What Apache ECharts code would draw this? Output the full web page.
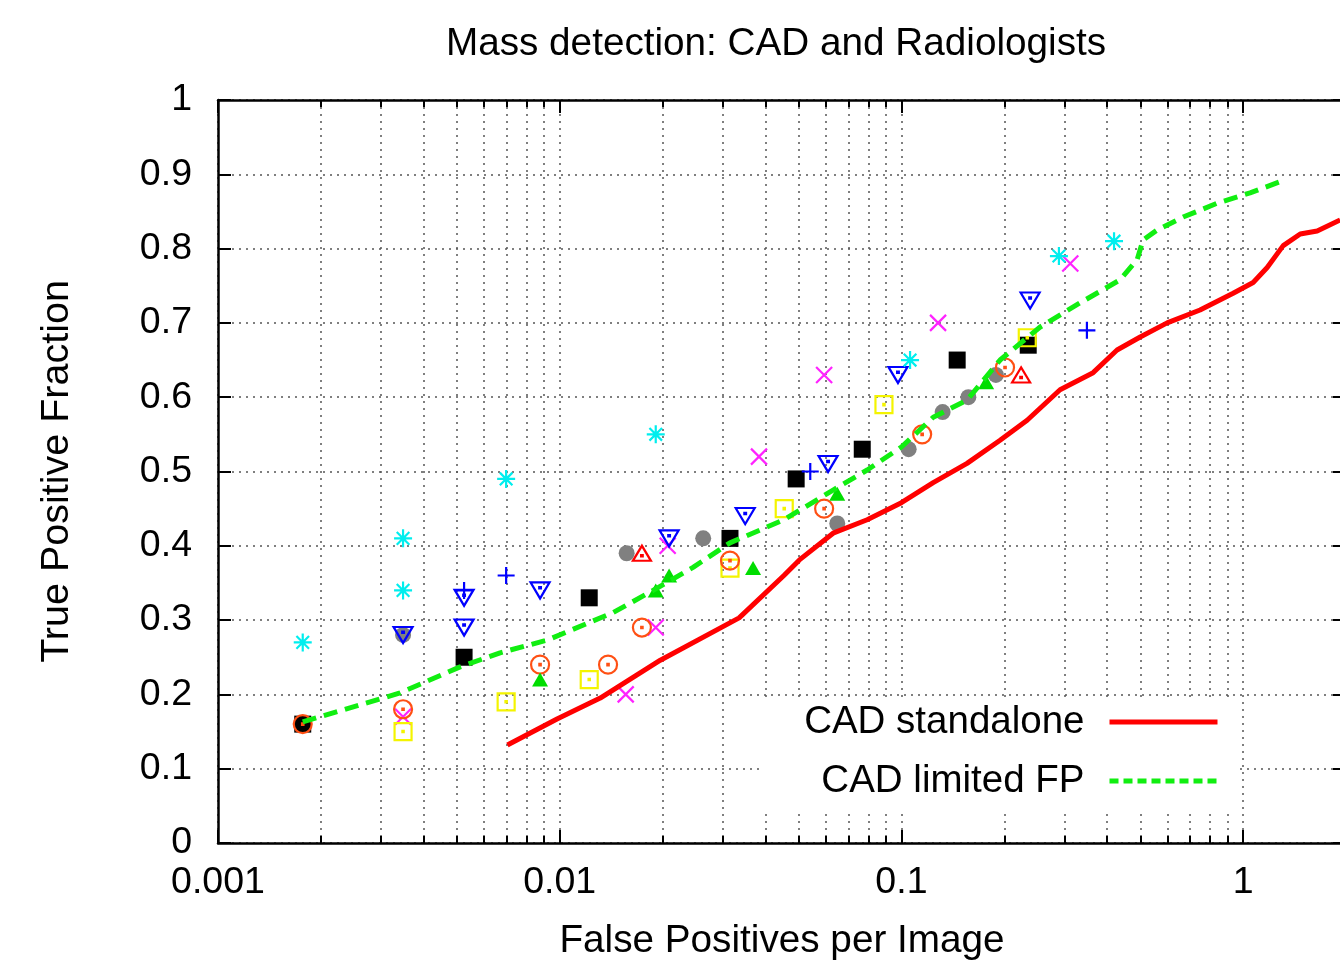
<!DOCTYPE html>
<html>
<head>
<meta charset="utf-8">
<script src="https://cdn.jsdelivr.net/npm/echarts@6/dist/echarts.min.js"></script>
<style>
  html, body { margin: 0; padding: 0; background: #fff; }
  #chart { width: 1340px; height: 961px; }
</style>
</head>
<body>
<div id="chart"></div>
<script>
// tick values for the log x axis
let majorTicks = [0.001, 0.01, 0.1, 1];
let allTicks = [];
for (let d of [0.001, 0.01, 0.1, 1]) {
    for (let k = 1; k <= 9; k++) allTicks.push(+(d * k).toPrecision(3));
}
allTicks.push(2);

// CAD curves
let cadX = [0.00703, 0.00982, 0.01314, 0.0197, 0.0335, 0.0453, 0.0503, 0.0631, 0.0794, 0.1, 0.1239, 0.1556, 0.1944, 0.2333, 0.2912, 0.3639, 0.4276, 0.4998, 0.5993, 0.748, 0.935, 1.07, 1.176, 1.31, 1.469, 1.647, 1.923];
let cadY = [0.132, 0.167, 0.195, 0.246, 0.303, 0.36, 0.381, 0.417, 0.435, 0.458, 0.485, 0.511, 0.542, 0.569, 0.61, 0.633, 0.6635, 0.681, 0.7, 0.7174, 0.74, 0.7544, 0.7746, 0.804, 0.8197, 0.8237, 0.8385];
let limX = [0.00177, 0.00341, 0.00511, 0.00669, 0.00918, 0.01432, 0.01876, 0.02456, 0.0315, 0.0453, 0.0631, 0.0794, 0.1, 0.1239, 0.1556, 0.1944, 0.2547, 0.3334, 0.4365, 0.4895, 0.5096, 0.5599, 0.6674, 0.8389, 1.048, 1.283];
let limY = [0.163, 0.202, 0.237, 0.256, 0.273, 0.31, 0.34, 0.371, 0.404, 0.435, 0.475, 0.502, 0.533, 0.573, 0.596, 0.65, 0.6945, 0.727, 0.758, 0.785, 0.8116, 0.825, 0.8425, 0.861, 0.875, 0.89];

// radiologists (x = FP per image, y = TPF)
let blackSq = [[0.00177, 0.16], [0.00525, 0.25], [0.0122, 0.33], [0.0315, 0.41], [0.0492, 0.49], [0.0768, 0.53], [0.1456, 0.65], [0.235, 0.67]];
let grayDot = [[0.00348, 0.28], [0.0157, 0.39], [0.0263, 0.41], [0.0649, 0.43], [0.105, 0.53], [0.132, 0.58], [0.157, 0.60], [0.189, 0.63]];
let magentaX = [[0.00348, 0.17], [0.0156, 0.20], [0.0191, 0.29], [0.0207, 0.40], [0.0383, 0.52], [0.0594, 0.63], [0.128, 0.70], [0.312, 0.78]];
let yellowSq = [[0.00348, 0.15], [0.00697, 0.19], [0.0122, 0.22], [0.0315, 0.37], [0.0454, 0.45], [0.0889, 0.59], [0.2335, 0.68]];
let orangeCirc = [[0.00177, 0.16], [0.00348, 0.18], [0.00876, 0.24], [0.01385, 0.24], [0.0174, 0.29], [0.0315, 0.38], [0.0594, 0.45], [0.115, 0.55], [0.201, 0.64]];
let bluePlus = [[0.00525, 0.34], [0.00697, 0.36], [0.0541, 0.50], [0.349, 0.69]];
let blueTri = [[0.00348, 0.28], [0.00525, 0.33], [0.00525, 0.29], [0.00876, 0.34], [0.0209, 0.41], [0.0349, 0.44], [0.061, 0.51], [0.0977, 0.63], [0.238, 0.73]];
let cyanStar = [[0.00177, 0.27], [0.00348, 0.41], [0.00348, 0.34], [0.00697, 0.49], [0.0191, 0.55], [0.106, 0.65], [0.289, 0.79], [0.419, 0.81]];
let redTri = [[0.0174, 0.39], [0.224, 0.63]];
let greenTri = [[0.00876, 0.22], [0.0191, 0.34], [0.0209, 0.36], [0.0368, 0.37], [0.0649, 0.47], [0.177, 0.62]];

let font = 'Liberation Sans, Arial, sans-serif';
let dot = 'M4.6,4.6L5.4,4.6L5.4,5.4L4.6,5.4Z';
let sym = {
    cross: 'path://M0,0L10,10M10,0L0,10',
    plus: 'path://M5,0L5,10M0,5L10,5',
    star: 'path://M5,0L5,10M0,5L10,5M1.5,1.5L8.5,8.5M8.5,1.5L1.5,8.5',
    box: 'path://M0,0L10,0L10,10L0,10Z' + dot,
    ring: 'path://M0,5A5,5 0 1,0 10,5A5,5 0 1,0 0,5Z' + dot,
    triUp: 'path://M5,0L10,8.66L0,8.66ZM4.6,5.4L5.4,5.4L5.4,6.2L4.6,6.2Z',
    triDown: 'path://M0,0L10,0L5,8.66ZM4.6,2.5L5.4,2.5L5.4,3.3L4.6,3.3Z'
};

function zip(xs, ys) {
    return xs.map((x, i) => [x, ys[i]]);
}

function points(data, symbol, size, color, filled) {
    return {
        type: 'scatter',
        data: data,
        symbol: symbol,
        symbolSize: size,
        silent: true,
        itemStyle: filled
            ? { color: color, opacity: 1 }
            : { color: 'rgba(0,0,0,0)', borderColor: color, borderWidth: 2.2, opacity: 1 }
    };
}

let chart = echarts.init(document.getElementById('chart'));

let tickStyle = { color: '#000', width: 2 };
let axisLine = { show: true, onZero: false, lineStyle: { color: '#000', width: 2.5 } };
let gridDots = { show: true, lineStyle: { type: [2, 5], color: '#555', width: 1.5 } };
let grid = { left: 218, top: 100, right: -6, bottom: 118, outerBoundsMode: 'none', containLabel: false };

let option = {
    animation: false,
    title: {
        text: 'Mass detection: CAD and Radiologists',
        left: 776,
        top: 25,
        padding: 0,
        textAlign: 'center',
        textStyle: { fontFamily: font, fontSize: 38.7, fontWeight: 'normal', color: '#000' }
    },
    legend: {
        data: [
            { name: 'CAD standalone' },
            { name: 'CAD limited FP', lineStyle: { type: [9, 5] } }
        ],
        orient: 'vertical',
        align: 'right',
        right: 103,
        top: 697,
        padding: [4, 17, 9, 45],
        backgroundColor: '#fff',
        itemWidth: 108,
        itemHeight: 14,
        itemGap: 17,
        selectedMode: false,
        itemStyle: { opacity: 0 },
        lineStyle: { width: 5 },
        textStyle: { fontFamily: font, fontSize: 38.5, lineHeight: 42, color: '#000', padding: [0, 20, 0, 0] }
    },
    grid: [grid, grid],
    xAxis: [{
        gridIndex: 0,
        type: 'log',
        min: 0.001,
        max: 2,
        position: 'bottom',
        axisLine: axisLine,
        axisTick: { inside: true, length: 7, customValues: allTicks, lineStyle: tickStyle },
        axisLabel: {
            customValues: majorTicks,
            margin: 21,
            fontFamily: font, fontSize: 37.5, color: '#000',
            formatter: v => String(+(+v).toPrecision(3))
        },
        splitLine: gridDots,
        name: 'False Positives per Image',
        nameLocation: 'middle',
        nameGap: 79,
        nameTextStyle: { fontFamily: font, fontSize: 38.7, color: '#000' }
    }, {
        gridIndex: 0,
        type: 'log',
        min: 0.001,
        max: 2,
        position: 'top',
        axisLine: axisLine,
        axisTick: { inside: true, length: 7, customValues: allTicks, lineStyle: tickStyle },
        axisLabel: { show: false },
        splitLine: { show: false }
    }, {
        gridIndex: 1,
        type: 'log',
        min: 0.001,
        max: 2,
        position: 'bottom',
        axisLine: { show: false },
        axisTick: { inside: true, length: 13, customValues: majorTicks, lineStyle: tickStyle },
        axisLabel: { show: false },
        splitLine: { show: false }
    }, {
        gridIndex: 1,
        type: 'log',
        min: 0.001,
        max: 2,
        position: 'top',
        axisLine: { show: false },
        axisTick: { inside: true, length: 13, customValues: majorTicks, lineStyle: tickStyle },
        axisLabel: { show: false },
        splitLine: { show: false }
    }],
    yAxis: [{
        gridIndex: 0,
        type: 'value',
        min: 0,
        max: 1,
        interval: 0.1,
        position: 'left',
        axisLine: axisLine,
        axisTick: { inside: true, length: 13, lineStyle: tickStyle },
        axisLabel: { margin: 26, fontFamily: font, fontSize: 37.5, color: '#000' },
        splitLine: gridDots,
        name: 'True Positive Fraction',
        nameLocation: 'middle',
        nameGap: 141,
        nameTextStyle: { fontFamily: font, fontSize: 39.5, color: '#000' }
    }, {
        gridIndex: 0,
        type: 'value',
        min: 0,
        max: 1,
        interval: 0.1,
        position: 'right',
        axisLine: axisLine,
        axisTick: { inside: true, length: 13, lineStyle: tickStyle },
        axisLabel: { show: false },
        splitLine: { show: false }
    }, {
        gridIndex: 1,
        type: 'value',
        min: 0,
        max: 1,
        show: false
    }],
    series: [
        points(blackSq, 'rect', 17, '#000', true),
        points(grayDot, 'circle', 16, '#808080', true),
        points(magentaX, sym.cross, 16, '#ff22ff', false),
        points(yellowSq, sym.box, 17, '#f4f400', false),
        points(orangeCirc, sym.ring, 18, '#ff5014', false),
        points(bluePlus, sym.plus, 17, '#0000ff', false),
        points(blueTri, sym.triDown, [19, 16], '#0000ff', false),
        points(cyanStar, sym.star, 18, '#00eeee', false),
        points(redTri, sym.triUp, [18, 15], '#ff0000', false),
        points(greenTri, 'triangle', [16, 14], '#00dd00', true),
        {
            name: 'CAD standalone',
            type: 'line',
            data: zip(cadX, cadY),
            symbol: 'none',
            silent: true,
            color: '#ff0000',
            lineStyle: { color: '#ff0000', width: 5 }
        },
        {
            name: 'CAD limited FP',
            type: 'line',
            data: zip(limX, limY),
            symbol: 'none',
            silent: true,
            color: '#11ee11',
            lineStyle: { color: '#11ee11', width: 5, type: [14, 8] }
        }
    ]
};

chart.setOption(option);
</script>
</body>
</html>
